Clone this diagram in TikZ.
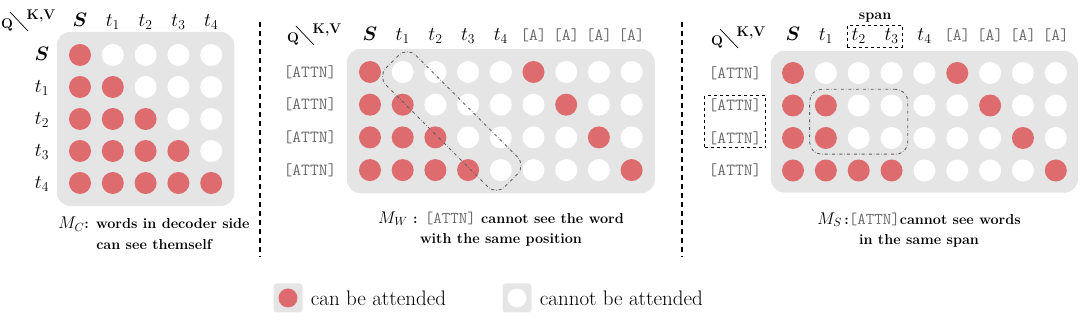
\RequirePackage{fix-cm}
\documentclass[tikz,border=0pt]{standalone}
\usepackage{amsmath}
\usepackage{xcolor}
\usepackage{tikz}
\usetikzlibrary{positioning, fit, calc, backgrounds}
\definecolor{attnred}{RGB}{222, 108, 110}
\definecolor{maskgray}{RGB}{229, 229, 229}
\definecolor{tokengray}{RGB}{105, 105, 105}
\definecolor{spangray}{RGB}{95, 95, 95}

\begin{document}
\begin{tikzpicture}[
    x=1pt, y=-1pt,
    dot/.style={circle, fill=#1, minimum size=22pt, inner sep=0pt},
    panel/.style={fill=maskgray, rounded corners=14pt, inner sep=12pt},
    head/.style={font=\fontsize{19.5}{19.5}\selectfont, inner sep=1pt, anchor=base},
    tok/.style={font=\fontsize{17}{17}\selectfont\ttfamily, text=tokengray, inner sep=1pt},
    qkv/.style={font=\fontsize{14}{14}\selectfont\bfseries, inner sep=0pt},
    caption/.style={font=\fontsize{14.4}{20.5}\selectfont\bfseries, align=center},
    spanbox/.style={draw, dashed, line width=0.9pt, inner xsep=3pt, inner ysep=2pt},
    samebox/.style={draw=spangray, dash dot, line width=0.9pt, rounded corners=12pt},
    sep/.style={line width=1.2pt, dash pattern=on 5pt off 4pt},
    legend/.style={font=\fontsize{21}{21}\selectfont, inner sep=0pt, anchor=west}
]
\useasboundingbox (0,0) rectangle (1080,336);

% Q \ K,V corner labels
\foreach \n/\qx/\qy in {1/7/25, 2/293/39, 3/717/42} {
    \node[qkv] (q\n) at (\qx,\qy) {Q};
    \node[qkv] (kv\n) at (\qx+34,\qy-9) {K,V};
    \draw[line width=0.7pt] (\qx+3,\qy-13) -- ++(18,19);
}

% panel C
\foreach \r in {1,...,5}
    \foreach \c in {1,...,5} {
        \pgfmathtruncatemacro\hit{\c<=\r}
        \ifnum\hit=1 \def\dotcol{attnred}\else\def\dotcol{white}\fi
        \node[dot=\dotcol] (c1-\r-\c) at ({80+32.8*(\c-1)}, {55+32*(\r-1)}) {};
    }
\foreach \lab [count=\i] in {$\boldsymbol{S}$, $t_1$, $t_2$, $t_3$, $t_4$} {
    \node[head] (h1-\i) at ({80+32.8*(\i-1)}, 27) {\lab};
    \node[head] (r1-\i) at (42, {61+32*(\i-1)}) {\lab};
}
\begin{scope}[on background layer]
    \node[panel, fit=(c1-1-1)(c1-5-5)] (box1) {};
\end{scope}
\node[caption] (cap1) at (154,233)
    {{\fontsize{17}{20.5}\selectfont$M_C$}: words in decoder side\\can see themself};

% panel W
\foreach \r in {1,...,4}
    \foreach \c in {1,...,9} {
        \pgfmathtruncatemacro\hit{or(\c<=\r, \c==\r+5)}
        \ifnum\hit=1 \def\dotcol{attnred}\else\def\dotcol{white}\fi
        \node[dot=\dotcol] (c2-\r-\c) at ({370+32.7*(\c-1)}, {72+32.7*(\r-1)}) {};
    }
\foreach \lab [count=\i] in {$\boldsymbol{S}$, $t_1$, $t_2$, $t_3$, $t_4$,
        \fontsize{17}{17}\selectfont\texttt{\textcolor{tokengray}{[A]}},
        \fontsize{17}{17}\selectfont\texttt{\textcolor{tokengray}{[A]}},
        \fontsize{17}{17}\selectfont\texttt{\textcolor{tokengray}{[A]}},
        \fontsize{17}{17}\selectfont\texttt{\textcolor{tokengray}{[A]}}}
    \node[head] (h2-\i) at ({370+32.7*(\i-1)}, 41) {\lab};
\foreach \r in {1,...,4}
    \node[tok] (r2-\r) at (310, {72+32.7*(\r-1)}) {[ATTN]};
\begin{scope}[on background layer]
    \node[panel, fit=(c2-1-1)(c2-4-9)] (box2) {};
\end{scope}
\node[samebox, rotate=-45, minimum width=168pt, minimum height=42pt]
    (diag) at ($(c2-1-2)!0.5!(c2-4-5)$) {};
\node[caption] (cap2) at (501,229)
    {{\fontsize{17}{20.5}\selectfont$M_W$} : {\fontsize{16.5}{20.5}\selectfont\mdseries\ttfamily\color{tokengray}[ATTN]} cannot see the word\\with the same position};

% panel S
\foreach \r in {1,...,4}
    \foreach \c in {1,...,9} {
        \pgfmathtruncatemacro\hit{or(or(\c==\r+5, \c<=min(\r,2)), and(\r==4, \c<=4))}
        \ifnum\hit=1 \def\dotcol{attnred}\else\def\dotcol{white}\fi
        \node[dot=\dotcol] (c3-\r-\c) at ({793+32.85*(\c-1)}, {73+32.5*(\r-1)}) {};
    }
\foreach \lab [count=\i] in {$\boldsymbol{S}$, $t_1$, $t_2$, $t_3$, $t_4$,
        \fontsize{17}{17}\selectfont\texttt{\textcolor{tokengray}{[A]}},
        \fontsize{17}{17}\selectfont\texttt{\textcolor{tokengray}{[A]}},
        \fontsize{17}{17}\selectfont\texttt{\textcolor{tokengray}{[A]}},
        \fontsize{17}{17}\selectfont\texttt{\textcolor{tokengray}{[A]}}}
    \node[head] (h3-\i) at ({793+32.85*(\i-1)}, 41) {\lab};
\foreach \r in {1,...,4}
    \node[tok] (r3-\r) at (735, {73+32.5*(\r-1)}) {[ATTN]};
\begin{scope}[on background layer]
    \node[panel, fit=(c3-1-1)(c3-4-9), inner sep=11pt] (box3) {};
\end{scope}
\node[samebox, fit=(c3-2-2)(c3-3-4), inner sep=5pt] (same) {};
\node[spanbox, fit=(h3-3)(h3-4)] (span) {};
\node[font=\fontsize{14.4}{14.4}\selectfont\bfseries, above=0pt of span] (spanlab) {span};
\node[spanbox, fit=(r3-2)(r3-3)] (spanq) {};
\node[caption] (cap3) at (919,230)
    {{\fontsize{17}{20.5}\selectfont$M_S$}\,:{\fontsize{16.5}{20.5}\selectfont\mdseries\ttfamily\color{tokengray}[ATTN]}cannot see words\\in the same span};

% separators
\draw[sep] (260,22) -- (260,257);
\draw[sep] (682,22) -- (682,257);

% legend
\node[fill=maskgray, rounded corners=3pt, minimum size=29pt, inner sep=0pt] (key1) at (288,298) {};
\node[dot=attnred, minimum size=19pt] (keydot1) at (key1) {};
\node[legend, right=8pt of key1] (keytxt1) {can be attended};
\node[fill=maskgray, rounded corners=3pt, minimum size=29pt, inner sep=0pt] (key2) at (517,298) {};
\node[dot=white, minimum size=19pt] (keydot2) at (key2) {};
\node[legend, right=8pt of key2] (keytxt2) {cannot be attended};
\end{tikzpicture}
\end{document}
